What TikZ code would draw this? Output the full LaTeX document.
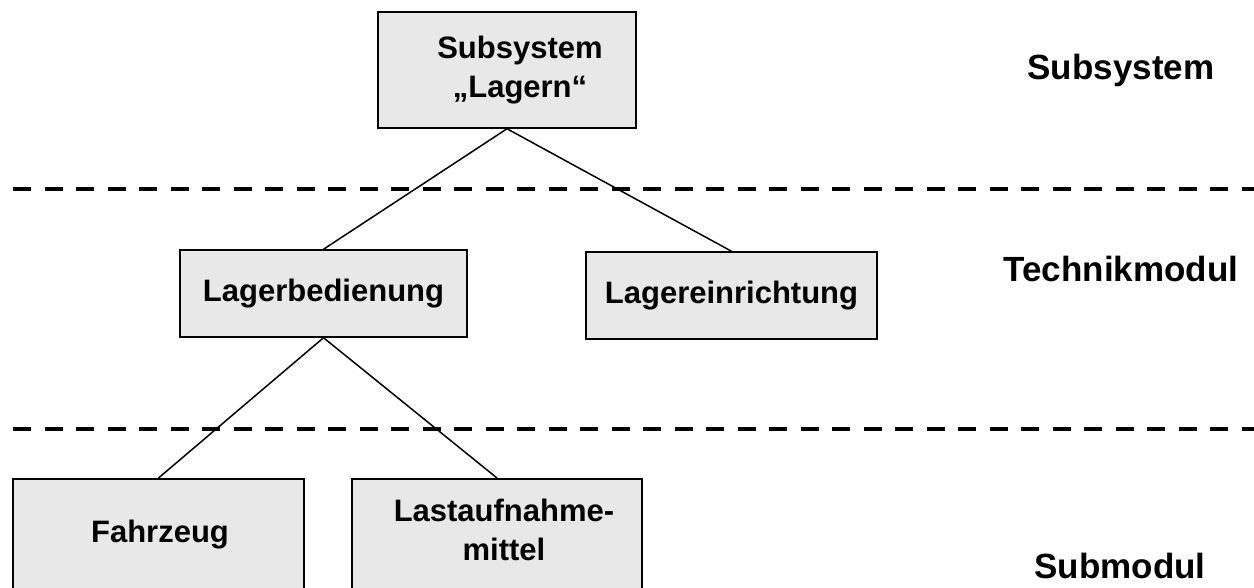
\documentclass[tikz,border=0pt]{standalone}
\usepackage{fontspec}
\setmainfont{Liberation Sans}
\definecolor{boxgrey}{RGB}{232,232,232}
\begin{document}
\begin{tikzpicture}[x=1pt,y=-1pt,
  box/.style={draw=black, line width=1.5pt, fill=boxgrey, rectangle, inner sep=0pt},
  boxtext/.style={font=\fontsize{31}{38.5}\selectfont\bfseries, align=center, inner sep=0pt},
  leveltext/.style={font=\fontsize{35}{42}\selectfont\bfseries, inner sep=0pt},
  link/.style={line width=1.5pt},
  divider/.style={line width=4pt, dash pattern=on 18pt off 13.5pt}]
\useasboundingbox (0,0) rectangle (1254,587);
\clip (0,0) rectangle (1254,587);

% level dividers
\draw[divider] (13,189) -- (1254,189);
\draw[divider] (13,429) -- (1254,429);

% boxes
\node[box, minimum width=258, minimum height=116] (sub) at (507,70) {};
\node[boxtext] (subt) at (520,70) {Subsystem\\„Lagern“};
\node[box, boxtext, minimum width=287, minimum height=87] (lb) at (323.5,293.5) {Lagerbedienung};
\node[box, boxtext, minimum width=291, minimum height=87] (le) at (731.5,295.5) {Lagereinrichtung};
\node[box, minimum width=291, minimum height=130, anchor=north] (fz) at (158.5,478) {};
\node[boxtext] (fzt) at (160,535) {Fahrzeug};
\node[box, minimum width=290, minimum height=130, anchor=north] (lm) at (497,478) {};
\node[boxtext] (lmt) at (504,530) {Lastaufnahme-\\mittel};

% connectors
\draw[link] (sub.south) -- (lb.north);
\draw[link] (sub.south) -- (le.north);
\draw[link] (lb.south) -- (fz.north);
\draw[link] (lb.south) -- (lm.north);

% level names
\node[leveltext] (l1) at (1121,70) {Subsystem};
\node[leveltext] (l2) at (1121,269) {Technikmodul};
\node[leveltext] (l3) at (1120,566) {Submodul};
\end{tikzpicture}
\end{document}
